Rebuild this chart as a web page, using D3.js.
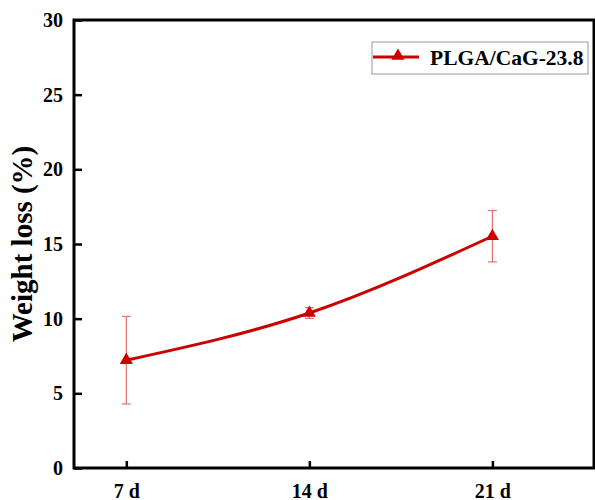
<!DOCTYPE html>
<html><head><meta charset="utf-8">
<script src="https://cdn.jsdelivr.net/npm/d3@7"></script>
<style>body{margin:0;background:#fff}svg{display:block}svg text{font-family:"Liberation Serif","Times New Roman",serif !important;font-weight:bold}</style>
</head><body><svg id="c" width="595" height="500"></svg>
<script>
const days = [7, 14, 21];
const dayLabels = ["7 d", "14 d", "21 d"];
const weightLoss = [7.22, 10.38, 15.52];
const errors = [2.93, 0.36, 1.72];
const yTicks = [0, 5, 10, 15, 20, 25, 30];
const seriesName = "PLGA/CaG-23.8";

const svg = d3.select("#c");
const L = 74, R = 597, T = 20, B = 468;
const red = "#cc0000";
const x = d3.scaleLinear().domain([5, 25]).range([L, R]);
const y = d3.scaleLinear().domain([0, 30]).range([B, T]);

// frame
svg.append("rect").attr("x", L).attr("y", T).attr("width", 594 - L).attr("height", B - T)
  .attr("fill", "none").attr("stroke", "#000").attr("stroke-width", 3);

// y axis (ticks inward)
const ya = svg.append("g").attr("transform", `translate(${L},0)`)
  .call(d3.axisRight(y).tickValues(yTicks).tickSize(8).tickFormat(d3.format("d")));
ya.select(".domain").remove();
ya.selectAll(".tick line").attr("stroke", "#000").attr("stroke-width", 2.5);
ya.selectAll(".tick text").attr("x", -11).attr("text-anchor", "end")
  .style("font-size", "20px").style("font-family", "'Liberation Serif', serif").style("font-weight", "bold").attr("fill", "#000");

// x axis (ticks inward)
const xa = svg.append("g").attr("transform", `translate(0,${B})`)
  .call(d3.axisTop(x).tickValues(days).tickSize(7).tickFormat((d, i) => dayLabels[i]));
xa.select(".domain").remove();
xa.selectAll(".tick line").attr("stroke", "#000").attr("stroke-width", 2.5);
xa.selectAll(".tick text").attr("y", 29.5).attr("dy", 0)
  .style("font-size", "20px").style("font-family", "'Liberation Serif', serif").style("font-weight", "bold").attr("fill", "#000");

// y title
svg.append("text").attr("transform", "translate(32,244) rotate(-90)")
  .attr("text-anchor", "middle").style("font-size", "29px").attr("fill", "#000").text("Weight loss (%)");

const pts = days.map((d, i) => ({ d, v: weightLoss[i], e: errors[i] }));

// error bars
const eb = svg.append("g").attr("stroke", "#e87070").attr("stroke-width", 1.2).attr("fill", "none");
pts.forEach(p => {
  const cx = x(p.d);
  eb.append("line").attr("x1", cx).attr("x2", cx).attr("y1", y(p.v + p.e)).attr("y2", y(p.v - p.e));
  eb.append("line").attr("x1", cx - 4.5).attr("x2", cx + 4.5).attr("y1", y(p.v + p.e)).attr("y2", y(p.v + p.e));
  eb.append("line").attr("x1", cx - 4.5).attr("x2", cx + 4.5).attr("y1", y(p.v - p.e)).attr("y2", y(p.v - p.e));
});

// line
const line = d3.line().x(p => x(p.d)).y(p => y(p.v)).curve(d3.curveNatural);
svg.append("path").datum(pts).attr("d", line).attr("fill", "none").attr("stroke", red).attr("stroke-width", 3);

// markers
const tri = d3.symbol().type(d3.symbolTriangle).size(75);
svg.selectAll(".m").data(pts).join("path").attr("class", "m")
  .attr("transform", p => `translate(${x(p.d)},${y(p.v)})`).attr("d", tri).attr("fill", red);

// legend
const lg = svg.append("g");
lg.append("rect").attr("x", 372).attr("y", 42).attr("width", 216).attr("height", 32)
  .attr("fill", "#fff").attr("stroke", "#999").attr("stroke-width", 1);
lg.append("line").attr("x1", 373).attr("x2", 419).attr("y1", 57).attr("y2", 57).attr("stroke", red).attr("stroke-width", 3);
lg.append("path").attr("transform", "translate(398,56)").attr("d", tri).attr("fill", red);
lg.append("text").attr("x", 430).attr("y", 65).style("font-size", "21.5px").attr("fill", "#000").text(seriesName);
</script></body></html>
